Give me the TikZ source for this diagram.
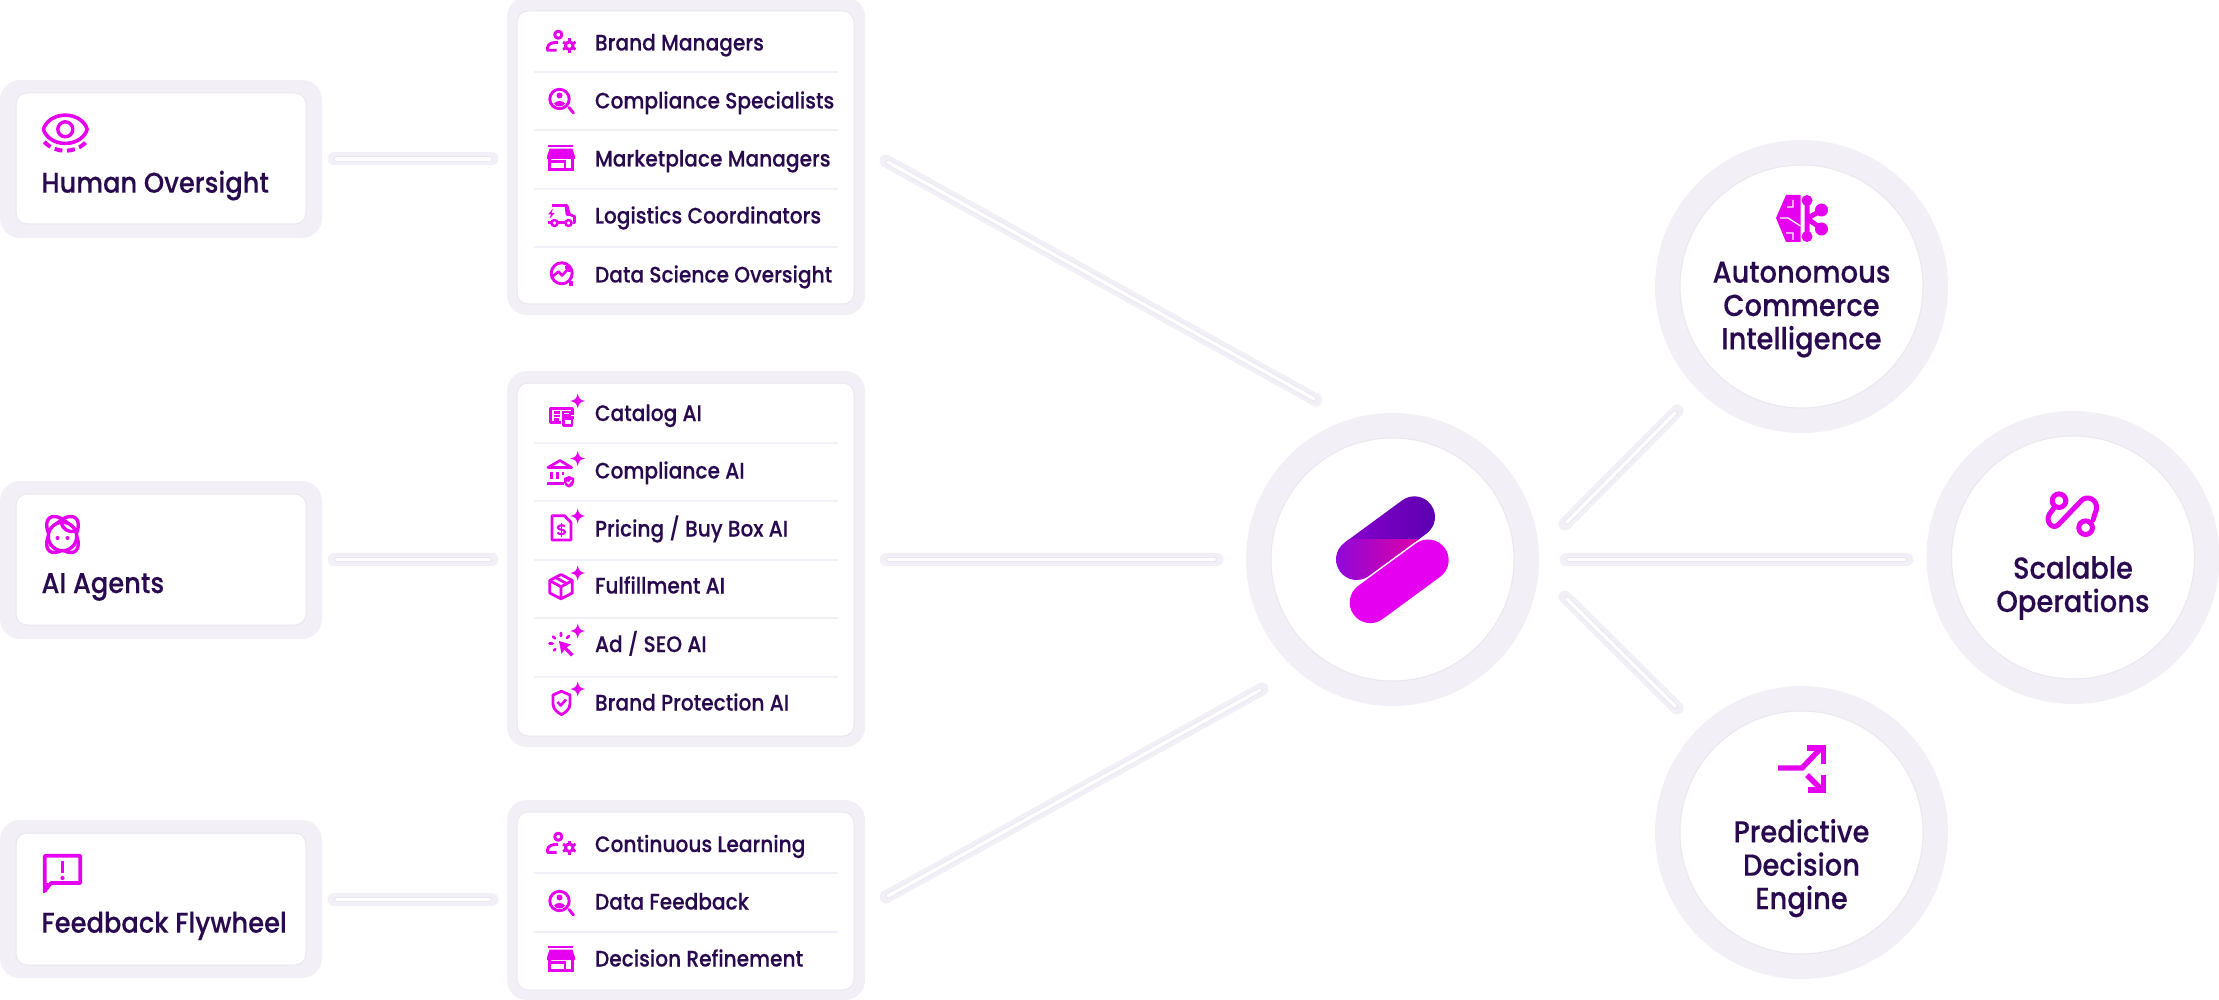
\documentclass[tikz,border=0pt]{standalone}
\usepackage{fontspec}
\setmainfont{Poppins}[UprightFont=* Medium,FakeStretch=0.9,FakeBold=0.2]
\definecolor{pale}{HTML}{F2F0F6}
\definecolor{edgec}{HTML}{E9E7EF}
\definecolor{mag}{HTML}{E600F0}
\definecolor{ink}{HTML}{2A0A4E}
\definecolor{hubA}{HTML}{8A00CF}
\definecolor{hubB}{HTML}{5C00B0}
\definecolor{hubC}{HTML}{9008D8}
\definecolor{hubD}{HTML}{E200A4}
\tikzset{
  outerbox/.style={rectangle,fill=pale,rounded corners=20pt,inner sep=0pt,outer sep=0pt},
  innerbox/.style={rectangle,fill=white,draw=edgec,line width=1pt,rounded corners=11pt,inner sep=0pt,outer sep=0pt},
  outerdisc/.style={circle,fill=pale,minimum size=293pt,inner sep=0pt,outer sep=0pt},
  innerdisc/.style={circle,fill=white,draw=edgec,line width=1pt,minimum size=243pt,inner sep=0pt,outer sep=0pt},
  biglabel/.style={text=ink,font=\fontsize{28.6}{33.3}\selectfont,inner sep=0pt,outer sep=0pt},
  disclabel/.style={text=ink,font=\fontsize{30.4}{33.3}\selectfont,inner sep=0pt,outer sep=0pt,anchor=base,align=center},
  rowlabel/.style={text=ink,font=\fontsize{22.4}{25}\selectfont,inner sep=0pt,outer sep=0pt,anchor=base west},
  divline/.style={draw=pale,line width=1.4pt},
  ic/.style={draw=mag,line width=2.9pt,fill=none,line join=round},
  icf/.style={fill=mag,draw=none},
}
\newcommand{\conn}[2]{%
  \draw[pale,line width=13pt,line cap=round] (#1) -- (#2);
  \draw[edgec,line width=5.2pt,line cap=round,shorten <=2.5pt,shorten >=2.5pt] (#1) -- (#2);
  \draw[white,line width=3.4pt,line cap=round,shorten <=2.5pt,shorten >=2.5pt] (#1) -- (#2);}
\newcommand{\spark}[2]{\fill[mag,shift={(#1,#2)}] (0,-7.5) .. controls (1,-2.4) and (2.4,-1) .. (7.5,0) .. controls (2.4,1) and (1,2.4) .. (0,7.5) .. controls (-1,2.4) and (-2.4,1) .. (-7.5,0) .. controls (-2.4,-1) and (-1,-2.4) .. (0,-7.5) -- cycle;}
\newcommand{\gear}[2]{%
  \draw[ic,line width=3pt] (#1,#2) circle (3.8);
  \foreach \a in {30,90,...,330}{\draw[mag,line width=2.8pt] (#1,#2) ++(\a:4.6) -- ++(\a:2.6);}}
\newcommand{\icperson}[2]{\begin{scope}[shift={(#1,#2)}]
  \draw[ic] (-2.7,-8.3) circle (3.6);
  \draw[ic] (-4.5,7.3) -- (-13.5,7.3) -- (-13.5,5) .. controls (-13.5,1) and (-9,-0.7) .. (-3,-0.7);
  \gear{8.3}{2.7}
\end{scope}}
\newcommand{\icsearch}[2]{\begin{scope}[shift={(#1,#2)}]
  \draw[ic] (-1.5,-1) circle (9.7);
  \draw[ic,line cap=round] (8,7.5) -- (12.5,13);
  \fill[mag] (-1.5,-4.5) circle (3);
  \fill[mag] (-7,3.5) .. controls (-5,0.2) and (2,0.2) .. (4,3.5) .. controls (2,7.5) and (-5,7.5) .. (-7,3.5) -- cycle;
\end{scope}}
\newcommand{\icstore}[2]{\begin{scope}[shift={(#1,#2)}]
  \draw[mag,line width=2.6pt] (-12.7,-12) -- (12.3,-12);
  \fill[mag] (-11.5,-9.3) -- (11.5,-9.3) -- (14,-1.5) -- (14,1) -- (-14,1) -- (-14,-1.5) -- cycle;
  \draw[mag,line width=2.8pt] (-11.7,0) -- (-11.7,11.8) -- (11.8,11.8) -- (11.8,0);
  \draw[mag,line width=2.8pt] (4,11.8) -- (4,3.8) -- (-11.7,3.8);
\end{scope}}
\newcommand{\ictruck}[2]{\begin{scope}[shift={(#1,#2)}]
  \draw[ic,line width=2.7pt] (-9,-9.5) -- (6,-9.5) -- (8.5,-0.5) -- (13.5,1.5) -- (13.5,7.5) -- (11.5,7.5);
  \draw[ic,line width=2.7pt] (5,-9) -- (6,-0.5) -- (8.5,-0.5);
  \draw[ic,line width=2.7pt] (-3,7.5) -- (4,7.5);
  \draw[ic,line width=2.7pt] (-13.5,7.5) -- (-10.5,7.5);
  \draw[ic,line width=2.5pt] (-6.5,8) circle (3);
  \draw[ic,line width=2.5pt] (7.5,8) circle (3);
  \fill[mag] (-8,-6.5) -- (-13,-0.5) -- (-10,-0.5) -- (-11.5,4) -- (-6.5,-2) -- (-9.5,-2) -- cycle;
\end{scope}}
\newcommand{\icdata}[2]{\begin{scope}[shift={(#1,#2)}]
  \draw[ic] (0.7,-0.7) circle (10.5);
  \fill[mag] (8,7.5) rectangle (12.3,12);
  \draw[ic,line width=2.6pt] (-9,3) -- (-2.5,-2.5) -- (1,1.5) -- (8,-6);
  \draw[ic,line width=2.6pt] (3.5,-6.5) -- (8.5,-6.5) -- (8.5,-1.5);
\end{scope}}
\newcommand{\iccatalog}[2]{\begin{scope}[shift={(#1,#2)}]
  \draw[ic,line width=2.6pt] (0,8.7) -- (-10.5,8.7) -- (-10.5,-5.5) -- (11.5,-5.5) -- (11.5,1);
  \draw[mag,line width=2.2pt] (-7.5,-1.5) -- (-1.5,-1.5) (-7.5,2) -- (-1.5,2) (-7.5,5.5) -- (-2.5,5.5);
  \draw[mag,line width=2pt] (1.5,-2) rectangle (8.5,1);
  \draw[ic,line width=2.5pt,fill=white] (2.5,5) rectangle (11,11.5);
  \draw[mag,line width=2.5pt] (1,3.5) -- (12.5,3.5);
\end{scope}}
\newcommand{\icbank}[2]{\begin{scope}[shift={(#1,#2)}]
  \draw[ic,line width=2.7pt] (-13,-4.5) -- (-1,-11.5) -- (10.5,-4.5) -- cycle;
  \draw[mag,line width=2.6pt] (-9.3,-0.5) -- (-9.3,7) (-3.7,-0.5) -- (-3.7,7) (1.8,-0.5) -- (1.8,3);
  \draw[mag,line width=2.6pt] (-14,11.2) -- (3,11.2);
  \fill[mag] (8,4) -- (13,6) -- (13,10.5) .. controls (13,13.5) and (10,15) .. (8,15.5) .. controls (6,15) and (3,13.5) .. (3,10.5) -- (3,6) -- cycle;
  \draw[white,line width=1.2pt] (5.7,9.7) -- (7.6,11.6) -- (10.5,8);
\end{scope}}
\newcommand{\icdoc}[2]{\begin{scope}[shift={(#1,#2)}]
  \draw[ic,line width=2.8pt] (-9,-12.3) -- (3.5,-12.3) -- (10,-5.5) -- (10,12) -- (-9,12) -- cycle;
  \draw[ic,line width=2.1pt] (3.8,-1.5) .. controls (3,-3.2) and (-3.2,-3.2) .. (-3.2,-0.5) .. controls (-3.2,2.5) and (4,0.8) .. (4,4) .. controls (4,6.8) and (-2.5,6.8) .. (-3.4,4.5);
  \draw[mag,line width=1.8pt] (0.4,-5) -- (0.4,9);
\end{scope}}
\newcommand{\icbox}[2]{\begin{scope}[shift={(#1,#2)}]
  \draw[ic,line width=2.8pt] (0,-11.5) -- (11.3,-5.5) -- (11.3,7) -- (0,12.8) -- (-11.3,7) -- (-11.3,-5.5) -- cycle;
  \draw[ic,line width=2.8pt] (-11.3,-5.5) -- (0,0.8) -- (11.3,-5.5) (0,0.8) -- (0,12.8);
  \draw[mag,line width=2.8pt] (-5.5,-8.5) -- (5.5,-2.5);
\end{scope}}
\newcommand{\iccursor}[2]{\begin{scope}[shift={(#1,#2)}]
  \fill[mag] (-2,-3) -- (10,0.5) -- (5.7,3.3) -- (12.5,10) -- (10,12.5) -- (3.3,5.7) -- (0.5,10) -- cycle;
  \draw[mag,line width=2.6pt,line cap=round] (-8,-7.5) -- (-6,-5.5) (0,-11) -- (0,-8) (8,-8) -- (6,-6) (-11.5,-0.5) -- (-8.5,-0.5) (-7,6.5) -- (-5.5,5);
\end{scope}}
\newcommand{\icshield}[2]{\begin{scope}[shift={(#1,#2)}]
  \draw[ic,line width=2.8pt] (0.5,-11.8) -- (9,-8) -- (9,1) .. controls (9,6) and (4.5,9.5) .. (0.5,11.6) .. controls (-3.5,9.5) and (-8,6) .. (-8,1) -- (-8,-8) -- cycle;
  \draw[ic,line width=2.6pt] (-3.5,-1) -- (-0.3,2.5) -- (5,-3.5);
\end{scope}}
\begin{document}
\begin{tikzpicture}[x=1pt,y=-1pt]
\useasboundingbox (0,0) rectangle (2219,1000);
% connectors
\coordinate (c1a) at (334,159); \coordinate (c1b) at (492,159);
\coordinate (c2a) at (334,559.5); \coordinate (c2b) at (492,559.5);
\coordinate (c3a) at (334,899.5); \coordinate (c3b) at (492,899.5);
\coordinate (d1a) at (886,161); \coordinate (d1b) at (1316,400);
\coordinate (d2a) at (886,559.5); \coordinate (d2b) at (1217,559.5);
\coordinate (d3a) at (886,897); \coordinate (d3b) at (1262,689);
\coordinate (e1a) at (1565,524); \coordinate (e1b) at (1677,411);
\coordinate (e2a) at (1566,559.5); \coordinate (e2b) at (1907,559.5);
\coordinate (e3a) at (1565,597); \coordinate (e3b) at (1677,708);
\conn{c1a}{c1b}\conn{c2a}{c2b}\conn{c3a}{c3b}
\conn{d1a}{d1b}\conn{d2a}{d2b}\conn{d3a}{d3b}
\conn{e1a}{e1b}\conn{e2a}{e2b}\conn{e3a}{e3b}
% left boxes
\node[outerbox,minimum width=322pt,minimum height=158pt] (lo1) at (161,159) {};
\node[innerbox,minimum width=290pt,minimum height=131pt] (li1) at (161,158.5) {};
\node[outerbox,minimum width=322pt,minimum height=158pt] (lo2) at (161,560) {};
\node[innerbox,minimum width=290pt,minimum height=131pt] (li2) at (161,559.5) {};
\node[outerbox,minimum width=322pt,minimum height=158pt] (lo3) at (161,899) {};
\node[innerbox,minimum width=290pt,minimum height=132pt] (li3) at (161,899) {};
\node[biglabel,anchor=base west] (l1) at (41.5,192.7) {Human Oversight};
\node[biglabel,anchor=base west] (l2) at (41.5,593) {AI Agents};
\node[biglabel,anchor=base west] (l3) at (41.5,932.7) {Feedback Flywheel};
% eye icon
\begin{scope}[shift={(65.3,129.3)}]
  \draw[ic,line width=3.6pt] (-21,-2.5) .. controls (-13,-18) and (13,-18) .. (21,-2.5) .. controls (22,-1) and (22,1) .. (21,2.5) .. controls (13,18) and (-13,18) .. (-21,2.5) .. controls (-22,1) and (-22,-1) .. (-21,-2.5) -- cycle;
  \draw[ic,line width=3.4pt] (0,0) circle (7.5);
  \draw[mag,line width=4pt,dash pattern=on 8pt off 4.6pt] (-21,12.5) .. controls (-10,24.5) and (10,24.5) .. (21,12.5);
\end{scope}
% agent icon
\begin{scope}[shift={(62.5,534.5)}]
  \draw[ic,line width=3.4pt,rotate=-52] (0,0) ellipse (21 and 11.5);
  \draw[ic,line width=3.4pt,rotate=52] (0,0) ellipse (21 and 11.5);
  \draw[ic,line width=3.4pt,fill=white] (0,2) circle (14.2);
  \fill[mag] (-5,3.5) circle (2) (5,3.5) circle (2);
  \draw[ic,line width=3.4pt] (-1,-12) .. controls (0,-5) and (6,-2) .. (13,-3);
\end{scope}
% feedback icon
\begin{scope}[shift={(43,854)}]
  \draw[ic,line width=3.7pt] (1.8,37) -- (1.8,1.8) -- (37.3,1.8) -- (37.3,29) -- (8,29) -- cycle;
  \fill[mag] (1.6,39) -- (0,39) -- (0,29) -- (8,29) -- cycle;
  \draw[mag,line width=3.5pt] (19.5,7) -- (19.5,19);
  \fill[mag] (19.5,24) circle (2.1);
\end{scope}
% middle panels
\node[outerbox,minimum width=358pt,minimum height=318pt] (mo1) at (686,156) {};
\node[innerbox,minimum width=337pt,minimum height=293pt] (mi1) at (685.5,157.5) {};
\node[outerbox,minimum width=358pt,minimum height=376pt] (mo2) at (686,559) {};
\node[innerbox,minimum width=337pt,minimum height=353pt] (mi2) at (685.5,559.5) {};
\node[outerbox,minimum width=358pt,minimum height=200pt] (mo3) at (686,900) {};
\node[innerbox,minimum width=337pt,minimum height=178pt] (mi3) at (685.5,901) {};
\foreach \y in {72,130,189,247,443,501,560,618,677,873,932}{\draw[divline] (534,\y) -- (838,\y);}
\node[rowlabel] (r1) at (595,50.5) {Brand Managers};
\node[rowlabel] (r2) at (595,108.5) {Compliance Specialists};
\node[rowlabel] (r3) at (595,166.5) {Marketplace Managers};
\node[rowlabel] (r4) at (595,223.5) {Logistics Coordinators};
\node[rowlabel] (r5) at (595,282.5) {Data Science Oversight};
\node[rowlabel] (r6) at (595,421) {Catalog AI};
\node[rowlabel] (r7) at (595,478.5) {Compliance AI};
\node[rowlabel] (r8) at (595,536.5) {Pricing / Buy Box AI};
\node[rowlabel] (r9) at (595,593.5) {Fulfillment AI};
\node[rowlabel] (r10) at (595,652) {Ad / SEO AI};
\node[rowlabel] (r11) at (595,710.5) {Brand Protection AI};
\node[rowlabel] (r12) at (595,852) {Continuous Learning};
\node[rowlabel] (r13) at (595,909.5) {Data Feedback};
\node[rowlabel] (r14) at (595,966.5) {Decision Refinement};
\icperson{561}{43}\icsearch{561}{100}\icstore{561}{158}\ictruck{561}{215}\icdata{561}{274}
\iccatalog{561}{414}\icbank{561}{472}\icdoc{561}{528}\icbox{561}{586}\iccursor{561}{644}\icshield{561}{703}
\spark{577.7}{401}\spark{577.7}{458.5}\spark{577.7}{516}\spark{577.7}{573}\spark{577.7}{631}\spark{577.7}{689}
\icperson{561}{845}\icsearch{561}{902}\icstore{561}{959}
% centre hub
\node[outerdisc] (hubo) at (1392.5,559.5) {};
\node[innerdisc] (hubi) at (1392.5,559.5) {};
\begin{scope}
  \clip[shift={(1385.5,538.15)},rotate=36.3] (-56.4,-20.6) [rounded corners=20.5pt] rectangle (56.4,20.6);
  \shade[left color=hubA,right color=hubB] (1340,490) rectangle (1436,541);
\end{scope}
\begin{scope}
  \clip[shift={(1385.5,538.15)},rotate=36.3] (-56.4,-20.6) [rounded corners=20.5pt] rectangle (56.4,20.6);
  \shade[left color=hubC,right color=hubD] (1336,539) rectangle (1424,600);
\end{scope}
\fill[mag,shift={(1399.2,581.3)},rotate=36.3] (-56.4,-20.6) [rounded corners=20.5pt] rectangle (56.4,20.6);
% outcome discs
\node[outerdisc] (so1) at (1801.5,286.5) {};
\node[innerdisc] (si1) at (1801.5,286.5) {};
\node[outerdisc] (so2) at (2073,557.5) {};
\node[innerdisc] (si2) at (2073,557.5) {};
\node[outerdisc] (so3) at (1801.5,832.5) {};
\node[innerdisc] (si3) at (1801.5,832.5) {};
\node[disclabel] (o1) at (1801.5,349.3) {Autonomous\\Commerce\\Intelligence};
\node[disclabel] (o2) at (2073,612) {Scalable\\Operations};
\node[disclabel] (o3) at (1801.5,909) {Predictive\\Decision\\Engine};
% brain icon
\fill[mag] (1800.5,195) -- (1786,195) -- (1776,218) -- (1786,242) -- (1800.5,242) -- cycle;
\draw[white,line width=1.3pt] (1787,207) -- (1793,207) -- (1793,200) (1780,218) -- (1788,218) -- (1800.5,226) (1786,233) -- (1793,233) -- (1793,240);
\draw[mag,line width=5pt] (1807,200) -- (1807,237) (1807,218.5) -- (1822,210) (1807,218.5) -- (1822,229);
\fill[mag] (1807,200.5) circle (5.5) (1807,236.5) circle (5.5) (1821.5,210) circle (6.5) (1821.5,229) circle (6.5);
% scalable icon
\draw[ic,line width=5pt] (2059,500.7) circle (6.8);
\draw[ic,line width=5pt] (2085.6,527.7) circle (6.8);
\draw[ic,line width=5pt,line cap=round] (2055,506.5) -- (2049.5,514) .. controls (2045,521) and (2052,530) .. (2058,525) -- (2081,501) .. controls (2087,494) and (2098,500) .. (2096.5,509) -- (2093,520);
% predictive icon
\draw[mag,line width=5.4pt,miter limit=10] (1778,768) -- (1802,768) -- (1822,747);
\draw[mag,line width=5.4pt,miter limit=10] (1807,748) -- (1823.5,748) -- (1823.5,764);
\draw[mag,line width=5.4pt] (1807,775) -- (1821,789);
\draw[mag,line width=5.4pt,miter limit=10] (1807.5,790) -- (1823.5,790) -- (1823.5,775);
\end{tikzpicture}
\end{document}
